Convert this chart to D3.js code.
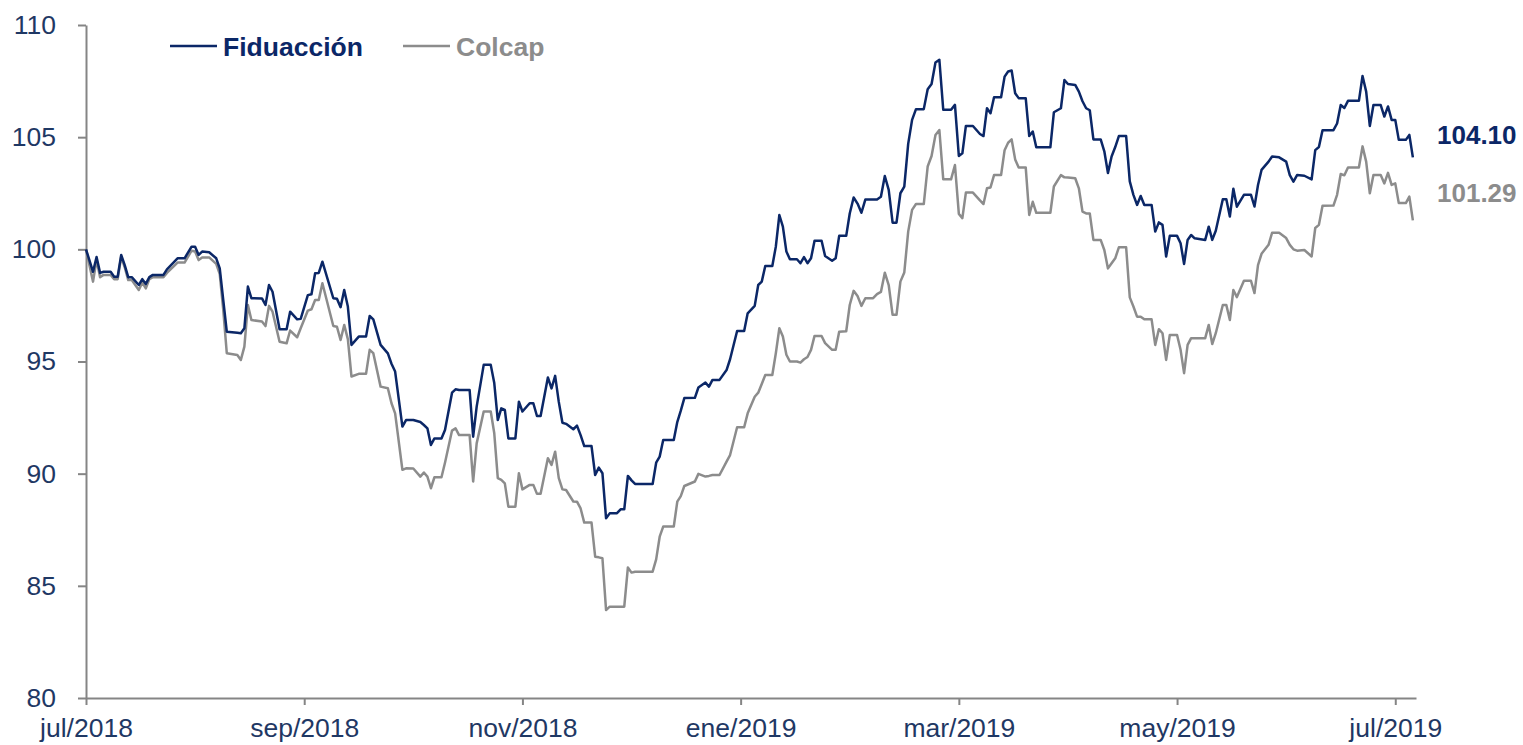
<!DOCTYPE html>
<html>
<head>
<meta charset="utf-8">
<script src="https://cdn.jsdelivr.net/npm/d3@7"></script>
<style>
  html, body { margin: 0; padding: 0; background: #ffffff; }
  svg { display: block; }
  text { font-family: "Liberation Sans", Arial, sans-serif; }
</style>
</head>
<body>
<svg id="chart" width="1523" height="745"></svg>
<script>
// ---------- DATA ----------
const seriesNames = ["Fiduacción", "Colcap"];

const dates = [
"2018-07-01","2018-07-03","2018-07-04","2018-07-05","2018-07-06","2018-07-08","2018-07-09","2018-07-10","2018-07-11","2018-07-12","2018-07-13","2018-07-14","2018-07-16","2018-07-17","2018-07-18","2018-07-19","2018-07-20","2018-07-23","2018-07-24","2018-07-27","2018-07-29","2018-07-31",
"2018-08-01","2018-08-02","2018-08-03","2018-08-05","2018-08-07","2018-08-08","2018-08-09","2018-08-10","2018-08-13","2018-08-14","2018-08-15","2018-08-16","2018-08-17","2018-08-20","2018-08-21","2018-08-22","2018-08-23","2018-08-25","2018-08-27","2018-08-28","2018-08-30","2018-08-31",
"2018-09-02","2018-09-03","2018-09-04","2018-09-05","2018-09-06","2018-09-09","2018-09-10","2018-09-11","2018-09-12","2018-09-13","2018-09-14","2018-09-16","2018-09-18","2018-09-19","2018-09-20","2018-09-22","2018-09-24","2018-09-25","2018-09-26","2018-09-28","2018-09-29",
"2018-10-01","2018-10-03","2018-10-04","2018-10-05","2018-10-06","2018-10-07","2018-10-09","2018-10-10","2018-10-12","2018-10-13","2018-10-14","2018-10-17","2018-10-18","2018-10-19","2018-10-21","2018-10-23","2018-10-24","2018-10-25","2018-10-26","2018-10-27","2018-10-28","2018-10-30","2018-10-31",
"2018-11-01","2018-11-03","2018-11-04","2018-11-05","2018-11-06","2018-11-08","2018-11-09","2018-11-10","2018-11-11","2018-11-12","2018-11-13","2018-11-15","2018-11-16","2018-11-17","2018-11-18","2018-11-20","2018-11-21","2018-11-22","2018-11-23","2018-11-24","2018-11-25","2018-11-27","2018-11-28","2018-11-29","2018-11-30",
"2018-12-01","2018-12-02","2018-12-07","2018-12-08","2018-12-09","2018-12-10","2018-12-13","2018-12-14","2018-12-15","2018-12-16","2018-12-19","2018-12-20","2018-12-22","2018-12-23","2018-12-24","2018-12-26","2018-12-28","2018-12-29","2018-12-31",
"2019-01-02","2019-01-03","2019-01-05","2019-01-06","2019-01-07","2019-01-08","2019-01-10","2019-01-11","2019-01-12","2019-01-13","2019-01-14","2019-01-15","2019-01-17","2019-01-18","2019-01-19","2019-01-20","2019-01-21","2019-01-22","2019-01-24","2019-01-25","2019-01-27","2019-01-28","2019-01-29","2019-01-31",
"2019-02-01","2019-02-02","2019-02-03","2019-02-04","2019-02-05","2019-02-07","2019-02-08","2019-02-09","2019-02-10","2019-02-11","2019-02-12","2019-02-13","2019-02-14","2019-02-15","2019-02-16","2019-02-17","2019-02-18","2019-02-20","2019-02-21","2019-02-22","2019-02-23","2019-02-24","2019-02-25","2019-02-27","2019-02-28",
"2019-03-01","2019-03-02","2019-03-03","2019-03-05","2019-03-07","2019-03-08","2019-03-09","2019-03-10","2019-03-11","2019-03-13","2019-03-14","2019-03-15","2019-03-16","2019-03-17","2019-03-18","2019-03-20","2019-03-21","2019-03-22","2019-03-23","2019-03-27","2019-03-28","2019-03-30","2019-03-31",
"2019-04-01","2019-04-03","2019-04-04","2019-04-05","2019-04-06","2019-04-07","2019-04-08","2019-04-10","2019-04-11","2019-04-12","2019-04-13","2019-04-14","2019-04-15","2019-04-17","2019-04-18","2019-04-19","2019-04-20","2019-04-21","2019-04-22","2019-04-24","2019-04-25","2019-04-26","2019-04-27","2019-04-28","2019-04-29",
"2019-05-01","2019-05-02","2019-05-03","2019-05-04","2019-05-05","2019-05-06","2019-05-09","2019-05-10","2019-05-11","2019-05-12","2019-05-14","2019-05-15","2019-05-16","2019-05-17","2019-05-18","2019-05-20","2019-05-22","2019-05-23","2019-05-24","2019-05-25","2019-05-27","2019-05-28","2019-05-30",
"2019-06-01","2019-06-02","2019-06-03","2019-06-04","2019-06-06","2019-06-08","2019-06-09","2019-06-10","2019-06-11","2019-06-14","2019-06-15","2019-06-16","2019-06-17","2019-06-18","2019-06-21","2019-06-22","2019-06-23","2019-06-24","2019-06-25","2019-06-27","2019-06-28","2019-06-29","2019-06-30",
"2019-07-01","2019-07-02","2019-07-04","2019-07-05","2019-07-06"
];

const fiduaccion = [
100.0, 99.0, 99.66, 98.95, 99.0, 99.0, 98.78, 98.78, 99.75, 99.3, 98.76, 98.76, 98.41, 98.67, 98.46, 98.76, 98.86, 98.86, 99.11, 99.6, 99.6, 100.12,
100.12, 99.75, 99.9, 99.87, 99.6, 99.15, 97.74, 96.33, 96.28, 96.26, 96.48, 98.34, 97.82, 97.81, 97.52, 98.41, 98.11, 96.44, 96.44, 97.22, 96.88, 96.9,
97.96, 98.0, 98.93, 98.95, 99.45, 97.82, 97.8, 97.42, 98.19, 97.45, 95.74, 96.11, 96.11, 97.03, 96.88, 95.74, 95.36, 94.9, 94.55, 92.1, 92.39,
92.39, 92.3, 92.17, 92.02, 91.28, 91.57, 91.57, 91.95, 93.61, 93.76, 93.73, 93.73, 91.65, 92.99, 94.85, 94.85, 94.04, 92.39, 92.91, 92.84, 91.57, 91.57, 93.21,
92.77, 93.14, 93.14, 92.57, 92.57, 94.29, 93.8, 94.36, 93.2, 92.27, 92.22, 91.98, 92.14, 91.72, 91.23, 91.23, 89.94, 90.27, 90.02, 88.01, 88.23, 88.24, 88.41, 88.41, 89.9,
89.7, 89.54, 89.54, 90.49, 90.76, 91.5, 91.5, 92.3, 92.81, 93.37, 93.38, 93.84, 94.06, 93.88, 94.18, 94.18, 94.62, 95.1, 96.36,
96.36, 97.15, 97.48, 98.41, 98.56, 99.26, 99.26, 100.12, 101.53, 101.01, 99.9, 99.56, 99.56, 99.38, 99.65, 99.38, 99.6, 100.38, 100.38, 99.7, 99.49, 99.6, 100.6, 100.6,
101.6, 102.31, 102.04, 101.63, 102.22, 102.22, 102.22, 102.34, 103.27, 102.65, 101.19, 101.19, 102.5, 102.8, 104.7, 105.77, 106.25, 106.25, 107.14, 107.37, 108.33, 108.45, 106.22, 106.22, 106.44,
104.16, 104.28, 105.5, 105.5, 105.14, 105.05, 106.29, 106.07, 106.78, 106.78, 107.7, 107.93, 107.97, 106.96, 106.74, 106.74, 105.05, 105.25, 104.55, 104.55, 106.11, 106.29, 107.55,
107.37, 107.33, 107.03, 106.6, 106.29, 106.2, 104.9, 104.9, 104.37, 103.4, 104.14, 104.56, 105.05, 105.05, 103.03, 102.43, 101.98, 102.38, 101.98, 101.98, 100.79, 101.2, 101.09, 99.68, 100.6,
100.6, 100.27, 99.35, 100.42, 100.64, 100.49, 100.42, 101.01, 100.42, 100.83, 102.23, 102.23, 101.46, 102.7, 101.9, 102.43, 102.43, 101.91, 102.87, 103.54, 103.91, 104.14, 104.1,
103.91, 103.31, 103.02, 103.31, 103.28, 103.12, 104.42, 104.56, 105.31, 105.31, 105.61, 106.43, 106.3, 106.62, 106.62, 107.73, 107.03, 105.5, 106.43, 106.43, 105.92, 106.37, 105.77,
105.77, 104.88, 104.88, 105.1, 104.10
];

const colcap = [
100.0, 98.56, 99.53, 98.76, 98.86, 98.86, 98.67, 98.67, 99.67, 99.2, 98.63, 98.63, 98.19, 98.52, 98.26, 98.67, 98.76, 98.76, 98.95, 99.41, 99.41, 99.94,
99.9, 99.52, 99.64, 99.64, 99.35, 98.9, 97.3, 95.37, 95.29, 95.07, 95.66, 97.52, 96.85, 96.78, 96.58, 97.48, 97.22, 95.88, 95.81, 96.38, 96.08, 96.48,
97.27, 97.33, 97.74, 97.74, 98.49, 96.58, 96.55, 95.96, 96.63, 96.0, 94.33, 94.45, 94.45, 95.52, 95.37, 93.88, 93.81, 93.14, 92.69, 90.17, 90.24,
90.23, 89.87, 90.05, 89.87, 89.35, 89.84, 89.84, 90.49, 91.92, 92.02, 91.72, 91.72, 89.65, 91.35, 92.77, 92.77, 91.8, 89.8, 89.72, 89.57, 88.53, 88.53, 90.02,
89.3, 89.5, 89.5, 89.1, 89.1, 90.69, 90.39, 90.98, 89.8, 89.3, 89.27, 88.76, 88.75, 88.45, 87.82, 87.82, 86.3, 86.27, 86.23, 83.92, 84.07, 84.07, 84.07, 84.07, 85.82,
85.59, 85.63, 85.63, 86.18, 87.19, 87.64, 87.64, 88.75, 89.0, 89.45, 89.65, 89.99, 89.87, 89.9, 89.94, 89.94, 90.54, 90.83, 92.07,
92.07, 92.69, 93.43, 93.61, 94.0, 94.4, 94.4, 95.37, 96.48, 96.11, 95.3, 95.0, 95.0, 94.95, 95.1, 95.2, 95.52, 96.14, 96.14, 95.82, 95.52, 95.52, 96.33, 96.35,
97.52, 98.15, 97.92, 97.48, 97.82, 97.82, 98.0, 98.1, 98.96, 98.41, 97.08, 97.08, 98.56, 98.97, 100.79, 101.76, 102.02, 102.02, 103.69, 104.16, 105.1, 105.32, 103.12, 103.12, 103.76,
101.58, 101.39, 102.53, 102.53, 102.18, 102.02, 102.72, 102.76, 103.31, 103.31, 104.42, 104.75, 104.9, 104.01, 103.65, 103.65, 101.53, 102.12, 101.63, 101.63, 102.8, 103.31, 103.21,
103.2, 103.17, 102.72, 101.68, 101.6, 101.6, 100.42, 100.42, 99.97, 99.15, 99.38, 99.6, 100.09, 100.09, 97.86, 97.45, 97.0, 97.0, 96.88, 96.88, 95.74, 96.44, 96.26, 95.07, 96.18,
96.18, 95.52, 94.48, 95.74, 96.04, 96.04, 96.04, 96.63, 95.78, 96.26, 97.52, 97.52, 96.85, 98.19, 97.87, 98.6, 98.6, 98.05, 99.3, 99.8, 100.2, 100.74, 100.74,
100.5, 100.2, 100.0, 99.94, 99.97, 99.68, 100.95, 101.09, 101.94, 101.95, 102.43, 103.36, 103.3, 103.65, 103.65, 104.59, 103.91, 102.5, 103.31, 103.31, 102.94, 103.41, 102.87,
102.94, 102.06, 102.06, 102.35, 101.29
];

const xTickDates  = ["2018-07-01","2018-09-01","2018-11-01","2019-01-01","2019-03-01","2019-05-01","2019-07-01"];
const xTickLabels = ["jul/2018","sep/2018","nov/2018","ene/2019","mar/2019","may/2019","jul/2019"];
const yTicks = [80, 85, 90, 95, 100, 105, 110];

// ---------- SETUP ----------
const NAVY = "#0b2767";
const GRAY = "#8c8c8c";
const LABEL = "#1f3864";
const AXIS = "#858585";

const parse = d3.timeParse("%Y-%m-%d");
const startY = 2018, startM = 6; // July 2018
// month axis: every month gets equal width
function monthPos(str) {
  const d = parse(str);
  const yr = d.getFullYear(), m = d.getMonth();
  const dim = new Date(yr, m + 1, 0).getDate();
  return (yr - startY) * 12 + (m - startM) + (d.getDate() - 1) / dim;
}

const plotLeft = 86, plotRight = 1416, plotTop = 25, plotBottom = 698;
const x = d3.scaleLinear().domain([0, 12.19]).range([plotLeft, plotRight]);
const y = d3.scaleLinear().domain([80, 110]).range([plotBottom, plotTop]);

const svg = d3.select("#chart");

const rows = dates.map((d, i) => ({ t: monthPos(d), f: fiduaccion[i], c: colcap[i] }));

// ---------- AXES ----------
const yAxis = d3.axisLeft(y).tickValues(yTicks).tickSize(8).tickSizeOuter(0).tickPadding(22)
  .tickFormat(d3.format("d"));
const gy = svg.append("g").attr("transform", `translate(${plotLeft},0)`).call(yAxis);

const xAxis = d3.axisBottom(x).tickValues(xTickDates.map(monthPos)).tickSize(7).tickSizeOuter(0).tickPadding(13)
  .tickFormat((d, i) => xTickLabels[i]);
const gx = svg.append("g").attr("transform", `translate(0,${plotBottom})`).call(xAxis);

[gx, gy].forEach(g => {
  g.select(".domain").attr("stroke", AXIS).attr("stroke-width", 2);
  g.selectAll(".tick line").attr("stroke", AXIS).attr("stroke-width", 2);
  g.selectAll(".tick text").attr("fill", LABEL).style("font-size", "26.5px")
    .style("font-family", '"Liberation Sans", Arial, sans-serif');
});

// ---------- LINES ----------
const lineC = d3.line().x(d => x(d.t)).y(d => y(d.c));
const lineF = d3.line().x(d => x(d.t)).y(d => y(d.f));

svg.append("path").datum(rows).attr("d", lineC)
  .attr("fill", "none").attr("stroke", GRAY).attr("stroke-width", 2.5).attr("stroke-linejoin", "round");
svg.append("path").datum(rows).attr("d", lineF)
  .attr("fill", "none").attr("stroke", NAVY).attr("stroke-width", 2.5).attr("stroke-linejoin", "round");

// ---------- END LABELS ----------
const last = rows[rows.length - 1];
svg.append("text").attr("x", plotRight + 21).attr("y", y(last.f) - 13)
  .attr("fill", NAVY).attr("font-weight", "bold").style("font-size", "26px")
  .text(last.f.toFixed(2));
svg.append("text").attr("x", plotRight + 21).attr("y", y(last.c) - 18)
  .attr("fill", GRAY).attr("font-weight", "bold").style("font-size", "26px")
  .text(last.c.toFixed(2));

// ---------- LEGEND ----------
const legend = [
  { name: seriesNames[0], color: NAVY, x0: 170 },
  { name: seriesNames[1], color: GRAY, x0: 403 }
];
const lg = svg.append("g");
legend.forEach(l => {
  lg.append("line").attr("x1", l.x0).attr("x2", l.x0 + 47).attr("y1", 46).attr("y2", 46)
    .attr("stroke", l.color).attr("stroke-width", 2.5);
  lg.append("text").attr("x", l.x0 + 53).attr("y", 56)
    .attr("fill", l.color).attr("font-weight", "bold").style("font-size", "26.5px")
    .text(l.name);
});
</script>
</body>
</html>
